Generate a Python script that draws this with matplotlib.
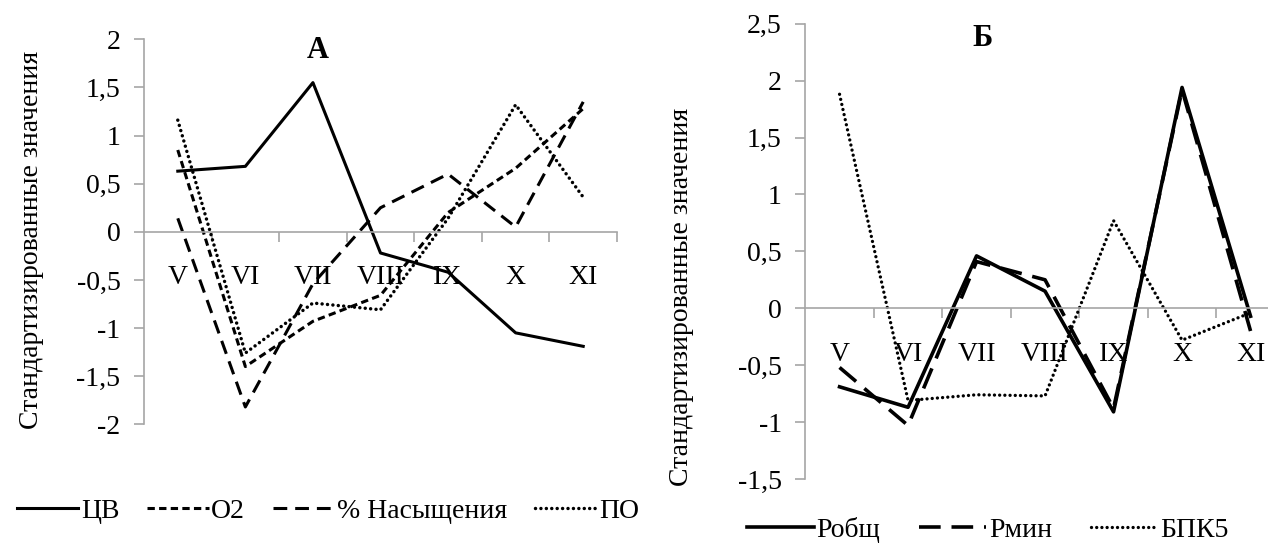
import matplotlib
matplotlib.use("Agg")
import matplotlib.pyplot as plt
from matplotlib.ticker import FuncFormatter, FixedLocator
import numpy as np

plt.rcParams['font.family'] = ['Liberation Serif', 'DejaVu Serif']

months = ["V", "VI", "VII", "VIII", "IX", "X", "XI"]

# Panel A
cv = [0.63, 0.68, 1.55, -0.22, -0.42, -1.05, -1.19]
o2 = [0.85, -1.40, -0.93, -0.66, 0.20, 0.66, 1.28]
sat = [0.14, -1.82, -0.54, 0.25, 0.60, 0.05, 1.35]
po = [1.16, -1.26, -0.74, -0.81, 0.14, 1.32, 0.36]

# Panel B
p_tot = [-0.69, -0.87, 0.46, 0.15, -0.91, 1.94, -0.07]
p_min = [-0.52, -1.03, 0.41, 0.25, -0.88, 1.92, -0.20]
bpk5 = [1.88, -0.81, -0.76, -0.77, 0.77, -0.28, -0.04]

W, H = 1268, 548
fig = plt.figure(figsize=(W / 100, H / 100), dpi=100)

GRAY = "#a6a6a6"
FS = 20

def fmt(v, pos):
    if abs(v) < 1e-9:
        return "0"
    return ("%g" % v).replace(".", ",")

def style_axes(ax, ymin, ymax):
    x = np.arange(len(months))
    ax.set_xlim(-0.5, len(months) - 0.5)
    ax.set_ylim(ymin, ymax)
    for s in ["top", "right"]:
        ax.spines[s].set_visible(False)
    ax.spines["left"].set_color(GRAY)
    ax.spines["left"].set_linewidth(1.2)
    ax.spines["bottom"].set_position(("data", 0))
    ax.spines["bottom"].set_color(GRAY)
    ax.spines["bottom"].set_linewidth(1.2)
    ax.yaxis.set_major_locator(FixedLocator(np.arange(ymin, ymax + 0.01, 0.5)))
    ax.yaxis.set_major_formatter(FuncFormatter(fmt))
    ax.tick_params(axis="y", direction="out", length=7, width=1.2, color=GRAY,
                   labelsize=FS, pad=10)
    ax.xaxis.set_major_locator(FixedLocator(np.arange(0.5, len(months), 1.0)))
    ax.xaxis.set_major_formatter(FuncFormatter(lambda v, p: ""))
    ax.set_xticks(x, months, minor=True)
    ax.tick_params(axis="x", which="major", direction="out", length=7, width=1.2,
                   color=GRAY)
    ax.tick_params(axis="x", which="minor", length=0, labelsize=FS, pad=24)
    ax.patch.set_alpha(0)

x = np.arange(len(months))
DOT = (0, (0.01, 1.55))

# ---------- Panel A ----------
axA = fig.add_axes([144 / W, 1 - 424.3 / H, 473 / W, (424.3 - 39.3) / H])
style_axes(axA, -2, 2)
lA = []
lA += axA.plot(x, cv, color="black", lw=2.2, ls="-", label="ЦВ")
lA += axA.plot(x, o2, color="black", lw=2.2, ls=(0, (2.4, 1.4)), label="O2")
lA += axA.plot(x, sat, color="black", lw=2.2, ls=(0, (4.5, 2.6)), label="% Насыщения")
lA += axA.plot(x, po, color="black", lw=2.5, ls=DOT, label="ПО",
               dash_capstyle="round")
for l in lA:
    l.set_clip_on(False)
fig.text(318 / W, 1 - 51 / H, "А", ha="center", va="center", fontsize=22,
         fontweight="bold")
fig.text(32 / W, 1 - 240 / H, "Стандартизированные значения", rotation=90,
         ha="center", va="center", fontsize=FS)
fig.legend(handles=lA, loc="center", bbox_to_anchor=(328 / W, 1 - 511 / H),
           ncol=4, frameon=False, fontsize=FS, handlelength=2.2,
           handletextpad=0.1, columnspacing=1.0, borderaxespad=0)

# ---------- Panel B ----------
axB = fig.add_axes([805.3 / W, 1 - 479 / H, 479.5 / W, (479 - 23.7) / H])
style_axes(axB, -1.5, 2.5)
lB = []
lB += axB.plot(x, p_tot, color="black", lw=2.6, ls="-", label="Робщ")
lB += axB.plot(x, p_min, color="black", lw=2.6, ls=(0, (6, 3)), label="Рмин")
lB += axB.plot(x, bpk5, color="black", lw=2.4, ls=DOT, label="БПК5",
               dash_capstyle="round")
fig.text(983 / W, 1 - 39 / H, "Б", ha="center", va="center", fontsize=22,
         fontweight="bold")
fig.text(682 / W, 1 - 297 / H, "Стандартизированные значения", rotation=90,
         ha="center", va="center", fontsize=FS)
fig.legend(handles=lB, loc="center", bbox_to_anchor=(988 / W, 1 - 530 / H),
           ncol=3, frameon=False, fontsize=FS, handlelength=2.4,
           handletextpad=0.1, columnspacing=1.4, borderaxespad=0)

fig.savefig("out.png", dpi=100, facecolor="white")
